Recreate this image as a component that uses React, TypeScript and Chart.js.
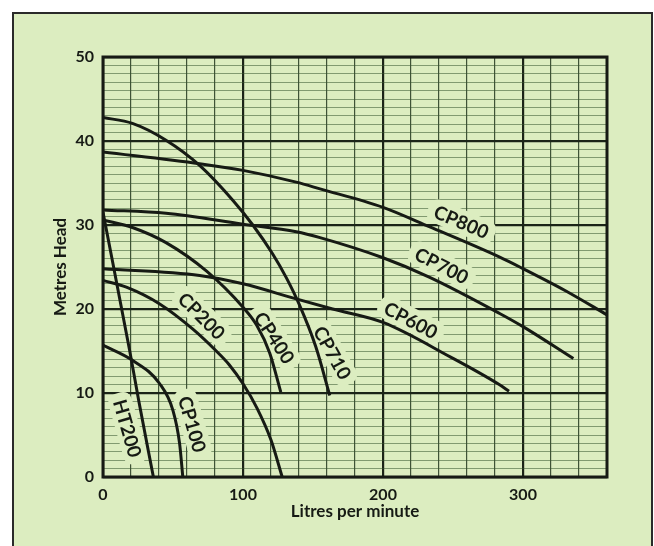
import React, { useEffect, useRef } from 'react';
import { Chart, registerables } from 'chart.js';

Chart.register(...registerables);

const FONT = 'Lato, "Open Sans", "DejaVu Sans", sans-serif';
const INK = '#161a14';
const BG = '#dcedc0';
const MAJOR = '#1b2418';
const MINOR_V = 'rgba(35,55,30,0.85)';
const MINOR_H = 'rgba(55,85,45,0.55)';

// Axis ticks
const xTickLabels = [0, 100, 200, 300];
const yTickLabels = [0, 10, 20, 30, 40, 50];

// Curves (Litres per minute -> Metres head)
const seriesNames = ['CP800', 'CP700', 'CP600', 'CP710', 'CP400', 'CP200', 'CP100', 'HT200'];

const cp800X = [0, 69, 100, 138, 155, 200, 233, 283, 300, 330, 360];
const cp800Y = [38.7, 37.3, 36.5, 35.1, 34.3, 32.1, 29.8, 26.2, 24.8, 22.2, 19.3];

const cp700X = [0, 45, 100, 138, 155, 200, 233, 283, 300, 336];
const cp700Y = [31.8, 31.4, 30.1, 29.2, 28.5, 26.1, 23.8, 19.5, 17.9, 14.1];

const cp600X = [0, 69, 100, 138, 164, 200, 248, 283, 290];
const cp600Y = [24.8, 24.0, 23.0, 21.2, 20.0, 18.4, 14.3, 11.0, 10.2];

const cp710X = [0, 21, 45, 69, 93, 107, 121, 131, 140, 152, 162];
const cp710Y = [42.8, 42.1, 40.1, 37.1, 32.9, 30.0, 26.6, 23.7, 20.6, 15.5, 9.7];

const cp400X = [0, 21, 45, 74, 100, 110, 119, 127];
const cp400Y = [30.6, 29.7, 27.9, 24.5, 20.2, 18.0, 14.8, 10.1];

const cp200X = [0, 16.7, 40.5, 64.2, 80.9, 90, 100, 110, 120, 128];
const cp200Y = [23.4, 22.6, 20.6, 17.6, 15.0, 13.4, 11.1, 8.2, 4.4, 0];

const cp100X = [0, 21, 40.5, 50, 54.7, 57];
const cp100Y = [15.7, 13.9, 11.1, 7.9, 4.0, 0];

const ht200X = [0, 19, 25.5, 36];
const ht200Y = [31.5, 15.1, 9.1, 0];

const seriesX = [cp800X, cp700X, cp600X, cp710X, cp400X, cp200X, cp100X, ht200X];
const seriesY = [cp800Y, cp700Y, cp600Y, cp710Y, cp400Y, cp200Y, cp100Y, ht200Y];

// Curve label anchors (data units) and text angle (degrees)
const labelAtX = [256, 242, 220, 164, 122.6, 70.6, 64, 17.7];
const labelAtY = [30.4, 25.2, 18.7, 14.8, 16.6, 19.2, 6.3, 5.8];
const labelAngle = [23, 27, 28, 61, 57, 45, 74, 74];

const framePlugin = {
  id: 'frame',
  beforeDraw(chart: any) {
    const { ctx, width, height } = chart;
    ctx.save();
    ctx.fillStyle = '#ffffff';
    ctx.fillRect(0, 0, width, height);
    ctx.fillStyle = BG;
    ctx.fillRect(13, 13, 639, height);
    ctx.strokeStyle = '#2a2a2a';
    ctx.lineWidth = 2;
    ctx.strokeRect(13, 13, 639, height + 10);
    ctx.restore();
  },
  afterDatasetsDraw(chart: any) {
    const { ctx, chartArea } = chart;
    ctx.save();
    ctx.strokeStyle = INK;
    ctx.lineWidth = 3;
    ctx.strokeRect(chartArea.left, chartArea.top, chartArea.right - chartArea.left, chartArea.bottom - chartArea.top);
    ctx.restore();
  },
};

const curveLabelPlugin = {
  id: 'curveLabels',
  beforeDatasetsDraw(chart: any) {
    const { ctx } = chart;
    const xs = chart.scales.x;
    const ys = chart.scales.y;
    ctx.save();
    ctx.font = `bold 19px ${FONT}`;
    seriesNames.forEach((name, i) => {
      const px = xs.getPixelForValue(labelAtX[i]);
      const py = ys.getPixelForValue(labelAtY[i]);
      ctx.save();
      ctx.translate(px, py);
      ctx.rotate((labelAngle[i] * Math.PI) / 180);
      const w = ctx.measureText(name).width;
      ctx.fillStyle = BG;
      ctx.beginPath();
      if (ctx.roundRect) ctx.roundRect(-w / 2 - 7, -12, w + 14, 24, 9);
      else ctx.rect(-w / 2 - 7, -12, w + 14, 24);
      ctx.fill();
      ctx.fillStyle = INK;
      ctx.textAlign = 'center';
      ctx.textBaseline = 'middle';
      ctx.fillText(name, 0, 1);
      ctx.restore();
    });
    ctx.restore();
  },
};

export default function App() {
  const canvasRef = useRef<HTMLCanvasElement | null>(null);

  useEffect(() => {
    if (!canvasRef.current) return;
    const datasets = seriesNames.map((name, i) => ({
      label: name,
      data: seriesX[i].map((x, j) => ({ x, y: seriesY[i][j] })),
      borderColor: INK,
      borderWidth: 3,
      pointRadius: 0,
      fill: false,
      cubicInterpolationMode: 'monotone' as const,
    }));

    const tickFont = { family: FONT, size: 16, weight: 'bold' as const };
    const titleFont = { family: FONT, size: 17, weight: 'bold' as const };

    const chart = new Chart(canvasRef.current, {
      type: 'line',
      data: { datasets },
      plugins: [framePlugin, curveLabelPlugin],
      options: {
        animation: false,
        responsive: false,
        devicePixelRatio: 1,
        layout: { padding: { left: 0, top: 57, right: 47, bottom: 0 } },
        plugins: { legend: { display: false }, tooltip: { enabled: false } },
        scales: {
          x: {
            type: 'linear',
            min: 0,
            max: 360,
            afterFit: (s: any) => { s.height = 69; },
            border: { display: false },
            grid: {
              drawTicks: false,
              color: (c: any) => (c.tick && c.tick.value % 100 === 0 ? MAJOR : MINOR_V),
              lineWidth: (c: any) => (c.tick && c.tick.value % 100 === 0 ? 2.2 : 1.2),
            },
            ticks: {
              stepSize: 20,
              maxTicksLimit: 100,
              autoSkip: false,
              maxRotation: 0,
              padding: 8,
              color: INK,
              font: tickFont,
              callback: (v: any) => (xTickLabels.includes(Number(v)) ? String(v) : ''),
            },
            title: {
              display: true,
              text: 'Litres per minute',
              color: INK,
              font: titleFont,
              padding: { top: 0, bottom: 24 },
            },
          },
          y: {
            type: 'linear',
            min: 0,
            max: 50,
            afterFit: (s: any) => { s.width = 103; },
            border: { display: false },
            grid: {
              drawTicks: false,
              color: (c: any) => (c.tick && c.tick.value % 10 === 0 ? MAJOR : MINOR_H),
              lineWidth: (c: any) => (c.tick && c.tick.value % 10 === 0 ? 2.2 : 1),
            },
            ticks: {
              stepSize: 1,
              maxTicksLimit: 100,
              autoSkip: false,
              padding: 9,
              color: INK,
              font: tickFont,
              callback: (v: any) => (yTickLabels.includes(Number(v)) ? String(v) : ''),
            },
            title: {
              display: true,
              text: 'Metres Head',
              color: INK,
              font: titleFont,
              padding: { top: 50, bottom: 0 },
            },
          },
        },
      } as any,
    });
    return () => chart.destroy();
  }, []);

  return (
    <div style={{ position: 'absolute', left: 0, top: 0, width: 654, height: 546 }}>
      <canvas ref={canvasRef} width={654} height={546} />
    </div>
  );
}
